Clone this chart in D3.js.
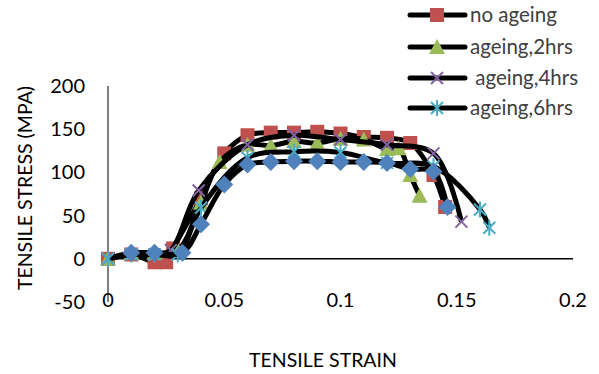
<!DOCTYPE html>
<html>
<head>
<meta charset="utf-8">
<script src="https://cdn.jsdelivr.net/npm/d3@7"></script>
<style>
  body { margin: 0; background: #fff; }
  svg { font-family: Lato, "Open Sans", sans-serif; }
</style>
</head>
<body>
<script>
// data
const noAgeingX = [0, 0.01, 0.02, 0.025, 0.028, 0.04, 0.05, 0.06, 0.07, 0.08, 0.09, 0.1, 0.11, 0.12, 0.13, 0.14, 0.145];
const noAgeingY = [0, 5, -4, -4, 12, 70, 122, 143, 146, 146, 147, 145, 141, 140, 134, 97, 60];

const ageing2X = [0, 0.01, 0.02, 0.03, 0.04, 0.048, 0.06, 0.07, 0.08, 0.09, 0.1, 0.11, 0.12, 0.125, 0.13, 0.134];
const ageing2Y = [0, 7, 7, 10, 65, 112, 132, 131, 136, 134, 139, 138, 127, 128, 97, 73];

const ageing4X = [0, 0.01, 0.02, 0.027, 0.039, 0.06, 0.08, 0.1, 0.12, 0.14, 0.152];
const ageing4Y = [0, 5, 5, 10, 79, 132, 143, 138, 132, 122, 43];

const ageing6X = [0, 0.01, 0.02, 0.03, 0.04, 0.06, 0.08, 0.1, 0.12, 0.14, 0.16, 0.164];
const ageing6Y = [0, 5, 5, 5, 59, 117, 124, 123, 111, 107, 57, 36];

const blueX = [0.01, 0.02, 0.032, 0.04, 0.05, 0.06, 0.07, 0.08, 0.09, 0.1, 0.11, 0.12, 0.13, 0.14, 0.146];
const blueY = [7, 7, 7, 40, 86, 109, 112, 113, 113, 112, 112, 111, 104, 101, 60];

const xTicks = [0, 0.05, 0.1, 0.15, 0.2];
const yTicks = [-50, 0, 50, 100, 150, 200];

const width = 599, height = 374;

let series = [
  { name: "no ageing", xs: noAgeingX, ys: noAgeingY, color: "#C0504D", marker: "square", legend: true },
  { name: "ageing,2hrs", xs: ageing2X, ys: ageing2Y, color: "#9BBB59", marker: "triangle", legend: true },
  { name: " ageing,4hrs", xs: ageing4X, ys: ageing4Y, color: "#8064A2", marker: "x", legend: true },
  { name: "ageing,6hrs", xs: ageing6X, ys: ageing6Y, color: "#4BACC6", marker: "star", legend: true },
  { name: "", xs: blueX, ys: blueY, color: "#4F81BD", marker: "diamond", legend: false }
];

let escalaX = d3.scaleLinear().domain([0, 0.2]).range([108, 573]);
let escalaY = d3.scaleLinear().domain([-50, 200]).range([302, 86]);

let svg = d3.select("body").append("svg")
  .attr("width", width)
  .attr("height", height);

/* Ejes */
svg.append("line")
  .attr("x1", escalaX(0)).attr("x2", escalaX(0))
  .attr("y1", escalaY(200)).attr("y2", escalaY(-50))
  .attr("stroke", "#000").attr("stroke-width", 1);

svg.append("line")
  .attr("x1", escalaX(0)).attr("x2", escalaX(0.2))
  .attr("y1", escalaY(0)).attr("y2", escalaY(0))
  .attr("stroke", "#000").attr("stroke-width", 1.5);

svg.selectAll(".ytick").data(yTicks).join("text")
  .attr("class", "ytick")
  .attr("x", 85)
  .attr("y", d => escalaY(d))
  .attr("dy", "0.35em")
  .attr("text-anchor", "end")
  .style("font-size", "20px")
  .text(d => d);

svg.selectAll(".xtick").data(xTicks).join("text")
  .attr("class", "xtick")
  .attr("x", d => escalaX(d))
  .attr("y", 300)
  .attr("dy", "0.35em")
  .attr("text-anchor", "middle")
  .style("font-size", "20px")
  .text(d => d);

svg.append("text")
  .attr("x", 323).attr("y", 367)
  .attr("text-anchor", "middle")
  .style("font-size", "19.5px")
  .text("TENSILE STRAIN");

svg.append("text")
  .attr("transform", "translate(32,188) rotate(-90)")
  .attr("text-anchor", "middle")
  .style("font-size", "19.5px")
  .text("TENSILE STRESS (MPA)");

/* Marcadores */
function pintarMarcador(g, tipo, color) {
  if (tipo === "square") {
    g.append("rect").attr("x", -7).attr("y", -7).attr("width", 14).attr("height", 14)
      .attr("fill", color);
  } else if (tipo === "triangle") {
    g.append("path").attr("d", "M0,-8L8,7L-8,7Z").attr("fill", color);
  } else if (tipo === "diamond") {
    g.append("path").attr("d", "M0,-9L9,0L0,9L-9,0Z").attr("fill", color);
  } else if (tipo === "x") {
    g.append("path").attr("d", "M-6,-6L6,6M-6,6L6,-6")
      .attr("stroke", color).attr("stroke-width", 2).attr("fill", "none");
  } else if (tipo === "star") {
    g.append("path").attr("d", "M-6,-6L6,6M-6,6L6,-6M0,-8L0,8")
      .attr("stroke", color).attr("stroke-width", 2).attr("fill", "none");
  }
}

let linea = d3.line()
  .x(d => escalaX(d[0]))
  .y(d => escalaY(d[1]))
  .curve(d3.curveCatmullRom.alpha(0.5));

series.forEach(function (s) {
  let pts = s.xs.map((x, i) => [x, s.ys[i]]);
  svg.append("path")
    .datum(pts)
    .attr("d", linea)
    .attr("fill", "none")
    .attr("stroke", "#000")
    .attr("stroke-width", 5)
    .attr("stroke-linejoin", "round");
  svg.append("g").selectAll("g").data(pts).join("g")
    .attr("transform", d => "translate(" + escalaX(d[0]) + "," + escalaY(d[1]) + ")")
    .each(function () { pintarMarcador(d3.select(this), s.marker, s.color); });
});

/* Leyenda */
let legendRows = [15, 47, 78, 108];
series.filter(s => s.legend).forEach(function (s, i) {
  let g = svg.append("g").attr("transform", "translate(410," + legendRows[i] + ")");
  g.append("line").attr("x1", 0).attr("x2", 55).attr("y1", 0).attr("y2", 0)
    .attr("stroke", "#000").attr("stroke-width", 5).attr("stroke-linecap", "round");
  pintarMarcador(g.append("g").attr("transform", "translate(27,0)"), s.marker, s.color);
  g.append("text")
    .attr("x", 60).attr("y", 0).attr("dy", "0.35em")
    .style("font-size", "20.5px")
    .style("white-space", "pre")
    .attr("fill", "#404040")
    .text(s.name);
});
</script>
</body>
</html>
